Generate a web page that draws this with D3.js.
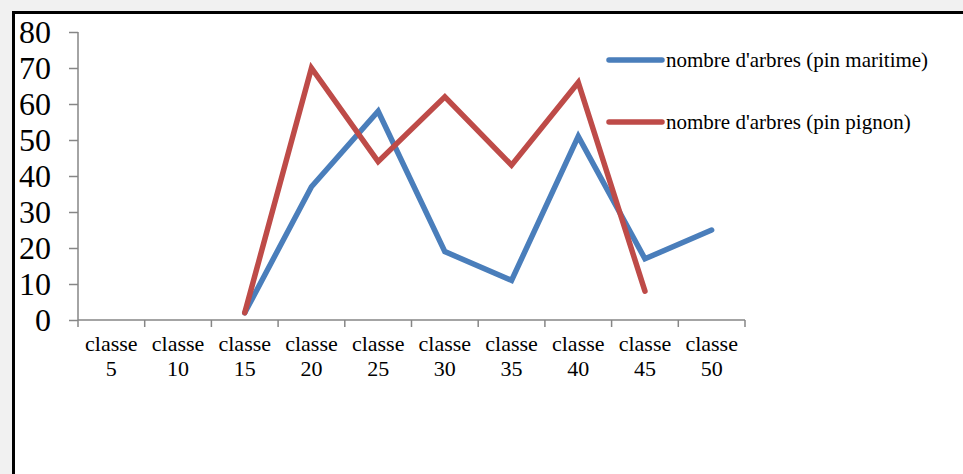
<!DOCTYPE html>
<html>
<head>
<meta charset="utf-8">
<script src="https://cdn.jsdelivr.net/npm/d3@7"></script>
<style>
  html, body { margin: 0; padding: 0; background: #f1f1f1; }
  svg { display: block; }
  svg text { font-family: "Liberation Serif", "Times New Roman", serif; fill: #000; }
</style>
</head>
<body>
<svg id="chart" width="963" height="474"></svg>
<script>
// Classes de diamètre
const categories = ["classe 5", "classe 10", "classe 15", "classe 20", "classe 25",
                    "classe 30", "classe 35", "classe 40", "classe 45", "classe 50"];
// Nombre d'arbres par classe (null = pas de valeur)
const pinMaritime = [null, null, 2, 37, 58, 19, 11, 51, 17, 25];
const pinPignon   = [null, null, 2, 70, 44, 62, 43, 66, 8, null];
const seriesNames = ["nombre d'arbres (pin maritime)", "nombre d'arbres (pin pignon)"];
const yTicks = [0, 10, 20, 30, 40, 50, 60, 70, 80];

const colors = ["#4a7ebb", "#be4b48"];
const svg = d3.select("#chart");

// Cadre blanc avec bordure noire
svg.append("rect").attr("x", 13.5).attr("y", 12.5).attr("width", 960).attr("height", 470)
  .attr("fill", "#fff").attr("stroke", "#000").attr("stroke-width", 3);

const x = d3.scaleBand().domain(categories).range([78, 745]);
const y = d3.scaleLinear().domain([0, 80]).range([320, 32]);

const axisColor = "#868686";

// Axe Y
const yAxis = svg.append("g").attr("transform", "translate(78,0)")
  .call(d3.axisLeft(y).tickValues(yTicks).tickSize(9).tickPadding(0).tickFormat(d3.format("d")));
yAxis.attr("font-family", null).attr("font-size", null);
yAxis.select(".domain").attr("stroke", axisColor).attr("stroke-width", 1.5)
  .attr("d", `M0,${y(80)}V${y(0)}`);
yAxis.selectAll(".tick line").attr("stroke", axisColor).attr("stroke-width", 1.5);
yAxis.selectAll(".tick text").attr("x", -27).attr("dy", "0.34em")
  .style("font-size", "32px");

// Axe X : domaine + graduations aux limites des classes
const xg = svg.append("g");
xg.append("line").attr("x1", 78).attr("x2", 745).attr("y1", 320).attr("y2", 320)
  .attr("stroke", axisColor).attr("stroke-width", 1.5);
const bounds = categories.map(c => x(c)).concat([x.range()[1]]);
xg.selectAll("line.tick").data(bounds).join("line").attr("class", "tick")
  .attr("x1", d => d).attr("x2", d => d).attr("y1", 320).attr("y2", 327)
  .attr("stroke", axisColor).attr("stroke-width", 1.5);

// Libellés sur deux lignes
const lbl = xg.selectAll("text").data(categories).join("text")
  .attr("text-anchor", "middle")
  .style("font-size", "22px");
lbl.append("tspan").attr("x", d => x(d) + x.bandwidth() / 2).attr("y", 351)
  .text(d => d.split(" ")[0]);
lbl.append("tspan").attr("x", d => x(d) + x.bandwidth() / 2).attr("y", 376)
  .text(d => d.split(" ")[1]);

// Courbes
const line = d3.line()
  .defined(d => d.v !== null)
  .x(d => x(d.c) + x.bandwidth() / 2)
  .y(d => y(d.v));

[pinMaritime, pinPignon].forEach((vals, i) => {
  svg.append("path")
    .datum(categories.map((c, k) => ({ c, v: vals[k] })))
    .attr("d", line)
    .attr("fill", "none").attr("stroke", colors[i]).attr("stroke-width", 5.5)
    .attr("stroke-linejoin", "miter").attr("stroke-miterlimit", 4)
    .attr("stroke-linecap", "round");
});

// Légende
const leg = svg.append("g");
seriesNames.forEach((name, i) => {
  const ly = 60 + i * 62;
  leg.append("line").attr("x1", 609).attr("x2", 662).attr("y1", ly).attr("y2", ly)
    .attr("stroke", colors[i]).attr("stroke-width", 5.5).attr("stroke-linecap", "round");
  leg.append("text").attr("x", 666).attr("y", ly).attr("dy", "0.33em")
    .style("font-size", "21px").text(name);
});
</script>
</body>
</html>
